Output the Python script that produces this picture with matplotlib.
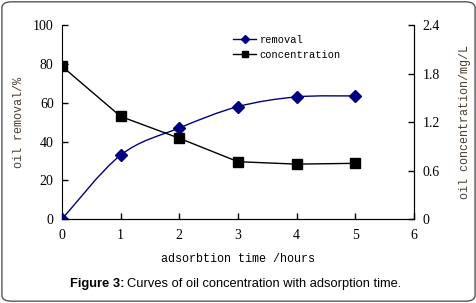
import matplotlib.pyplot as plt
from matplotlib.patches import FancyBboxPatch, PathPatch
from matplotlib.path import Path

hours = [0, 1, 2, 3, 4, 5]
removal = [0, 33, 47, 58, 63, 63.5]
concentration = [1.89, 1.27, 1.0, 0.71, 0.68, 0.69]


def smooth_path(xs, ys):
    # Catmull-Rom style bezier through the points (like Excel "smoothed line")
    n = len(xs)
    verts = [(xs[0], ys[0])]
    codes = [Path.MOVETO]
    for i in range(n - 1):
        p0 = max(i - 1, 0)
        p3 = min(i + 2, n - 1)
        c1 = (xs[i] + (xs[i + 1] - xs[p0]) / 6, ys[i] + (ys[i + 1] - ys[p0]) / 6)
        c2 = (xs[i + 1] - (xs[p3] - xs[i]) / 6, ys[i + 1] - (ys[p3] - ys[i]) / 6)
        verts += [c1, c2, (xs[i + 1], ys[i + 1])]
        codes += [Path.CURVE4] * 3
    return Path(verts, codes)


fig = plt.figure(figsize=(4.77, 3.03), dpi=100)
ax = fig.add_axes([0.130, 0.277, 0.738, 0.640])
ax2 = ax.twinx()

mono = 'Liberation Mono'
serif = 'Liberation Serif'
navy = '#000080'

ax.add_patch(PathPatch(smooth_path(hours, removal), facecolor='none',
                       edgecolor=navy, lw=1, zorder=2))
ax.plot(hours, removal, ls='none', color=navy, marker='D', ms=6, zorder=3)
l1, = ax.plot([], [], color=navy, lw=1, marker='D', ms=6)
l2, = ax2.plot(hours, concentration, color='black', lw=1, marker='s', ms=7)

ax.set_xlim(0, 6)
ax.set_ylim(0, 100)
ax2.set_ylim(0, 2.4)
ax.set_xticks(range(7))
ax.set_yticks(range(0, 101, 20))
ax2.set_yticks([0, 0.6, 1.2, 1.8, 2.4])
ax2.set_yticklabels(['0', '0.6', '1.2', '1.8', '2.4'])

for a in (ax, ax2):
    a.spines['top'].set_visible(False)
    a.tick_params(direction='in', length=4, width=1, labelsize=10, pad=6)
    for lbl in a.get_xticklabels() + a.get_yticklabels():
        lbl.set_fontfamily(serif)
ax.tick_params(axis='x', pad=7)
ax2.spines['left'].set_visible(False)

label_col = '#4a4030'
ax.set_xlabel('adsorbtion time /hours', fontfamily=mono, fontsize=8.5, labelpad=8)
ax.set_ylabel('oil removal/%', fontfamily=mono, fontsize=8.5, color=label_col, labelpad=6)
ax2.set_ylabel('oil concentration/mg/L', fontfamily=mono, fontsize=8.5, color=label_col, labelpad=14)

ax.legend([l1, l2], ['removal', 'concentration'], loc='upper left',
          bbox_to_anchor=(0.46, 1.0), frameon=False,
          prop={'family': mono, 'size': 7.5}, handlelength=2.2,
          handletextpad=0.3, labelspacing=0.5, markerscale=0.7)

fig.text(0.147, 0.062, 'Figure 3:', fontfamily='Liberation Sans',
         fontsize=9.3, fontweight='bold', ha='left', va='center')
fig.text(0.267, 0.062, 'Curves of oil concentration with adsorption time.',
         fontfamily='Liberation Sans', fontsize=9.3, ha='left', va='center')

border = FancyBboxPatch((0.004, 0.006), 0.992, 0.988, boxstyle='round,pad=0,rounding_size=0.02',
                        transform=fig.transFigure, fill=False, edgecolor='#555555', lw=1)
fig.patches.append(border)

fig.savefig('out.png', dpi=100)
